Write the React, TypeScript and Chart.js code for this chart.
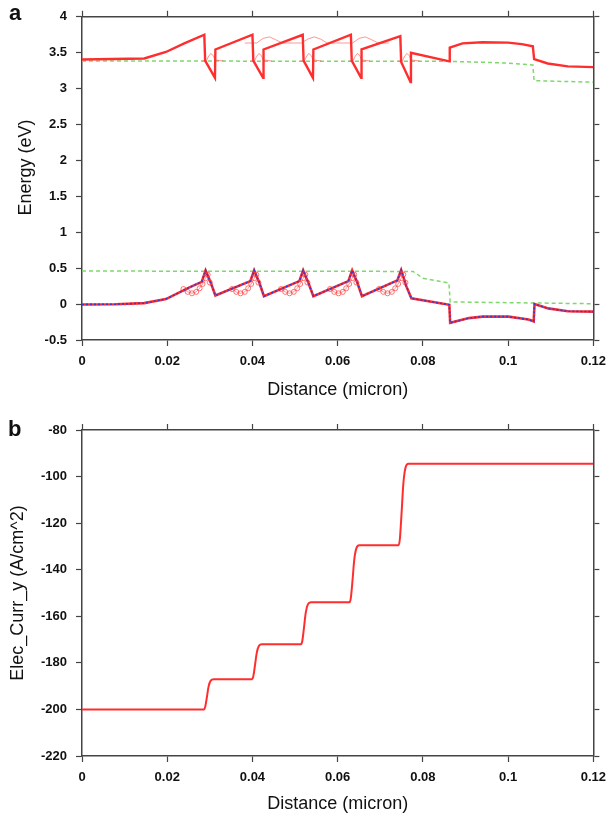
import React, { useEffect, useRef } from "react";
import { Chart, registerables } from "chart.js";
Chart.register(...registerables);

// ---------- shared axis ----------
const xTickValues = [0, 0.02, 0.04, 0.06, 0.08, 0.1, 0.12];
const xTickLabels = ["0", "0.02", "0.04", "0.06", "0.08", "0.1", "0.12"];

// ---------- panel a : band diagram ----------
const energyTickValues = [-0.5, 0, 0.5, 1, 1.5, 2, 2.5, 3, 3.5, 4];
const energyTickLabels = ["-0.5", "0", "0.5", "1", "1.5", "2", "2.5", "3", "3.5", "4"];

// conduction band edge
const cbX = [0, 0.0146, 0.0197, 0.024, 0.0287, 0.0289, 0.0312, 0.0313, 0.04, 0.0402, 0.0425, 0.0426, 0.0518, 0.052, 0.0542, 0.0543, 0.0631, 0.0633, 0.0655, 0.0656, 0.0747, 0.0749, 0.0771, 0.0772, 0.0862, 0.0863, 0.0893, 0.0939, 0.1, 0.1032, 0.1058, 0.1061, 0.1093, 0.114, 0.12];
const cbE = [3.405, 3.42, 3.51, 3.63, 3.75, 3.39, 3.15, 3.545, 3.75, 3.39, 3.15, 3.545, 3.75, 3.39, 3.15, 3.545, 3.75, 3.39, 3.15, 3.545, 3.73, 3.37, 3.09, 3.5, 3.38, 3.57, 3.63, 3.645, 3.64, 3.62, 3.59, 3.41, 3.35, 3.31, 3.3];

// valence band edge
const vbX = [0, 0.008, 0.0146, 0.0197, 0.0251, 0.0281, 0.029, 0.0302, 0.0313, 0.0395, 0.0404, 0.0416, 0.0427, 0.051, 0.0519, 0.0531, 0.0543, 0.0625, 0.0634, 0.0646, 0.0657, 0.074, 0.0749, 0.0761, 0.0773, 0.0862, 0.0864, 0.0908, 0.094, 0.1001, 0.1048, 0.106, 0.1062, 0.1094, 0.114, 0.12];
const vbE = [-0.005, -0.002, 0.014, 0.07, 0.23, 0.31, 0.47, 0.3, 0.12, 0.32, 0.47, 0.3, 0.11, 0.32, 0.47, 0.3, 0.11, 0.32, 0.47, 0.3, 0.11, 0.33, 0.475, 0.25, 0.08, -0.01, -0.26, -0.195, -0.175, -0.175, -0.215, -0.24, 0.0, -0.06, -0.1, -0.105];

// electron quasi-Fermi level
const efnX = [0, 0.086, 0.095, 0.1, 0.1058, 0.1061, 0.12];
const efnE = [3.385, 3.38, 3.365, 3.355, 3.33, 3.11, 3.09];

// hole quasi-Fermi level
const efpX = [0, 0.0777, 0.08, 0.0861, 0.0864, 0.12];
const efpE = [0.46, 0.455, 0.36, 0.295, 0.03, 0.005];

// electron subband levels / wavefunctions (thin)
const ground1X = [0.0282, 0.0292, 0.0296, 0.0302, 0.0308, 0.0312, 0.0332];
const ground1E = [3.385, 3.385, 3.44, 3.49, 3.46, 3.4, 3.385];
const ground2X = [0.0395, 0.0405, 0.0409, 0.0415, 0.0421, 0.0425, 0.0445];
const ground2E = [3.385, 3.385, 3.44, 3.49, 3.46, 3.4, 3.385];
const ground3X = [0.0512, 0.0522, 0.0526, 0.0532, 0.0538, 0.0542, 0.0562];
const ground3E = [3.385, 3.385, 3.44, 3.49, 3.46, 3.4, 3.385];
const ground4X = [0.0626, 0.0636, 0.064, 0.0646, 0.0652, 0.0656, 0.0676];
const ground4E = [3.385, 3.385, 3.44, 3.49, 3.46, 3.4, 3.385];
const ground5X = [0.0742, 0.0752, 0.0756, 0.0762, 0.0768, 0.0772, 0.0792];
const ground5E = [3.385, 3.385, 3.44, 3.49, 3.46, 3.4, 3.385];
const upperX = [0.0382, 0.041, 0.0425, 0.044, 0.0455, 0.047, 0.0515, 0.053, 0.0545, 0.056, 0.0575, 0.059, 0.0635, 0.065, 0.0665, 0.068, 0.0695, 0.072];
const upperE = [3.635, 3.635, 3.7, 3.72, 3.68, 3.635, 3.635, 3.69, 3.72, 3.69, 3.635, 3.635, 3.635, 3.7, 3.72, 3.68, 3.635, 3.635];

// hole states (thin with circles)
const hole1X = [0.0238, 0.0248, 0.0258, 0.0268, 0.0276, 0.0283, 0.029, 0.0295, 0.03];
const hole1E = [0.21, 0.17, 0.15, 0.17, 0.22, 0.28, 0.36, 0.41, 0.3];
const hole2X = [0.0352, 0.0362, 0.0372, 0.0382, 0.039, 0.0397, 0.0404, 0.0409, 0.0414];
const hole2E = [0.21, 0.17, 0.15, 0.17, 0.22, 0.28, 0.36, 0.41, 0.3];
const hole3X = [0.0467, 0.0477, 0.0487, 0.0497, 0.0505, 0.0512, 0.0519, 0.0524, 0.0529];
const hole3E = [0.21, 0.17, 0.15, 0.17, 0.22, 0.28, 0.36, 0.41, 0.3];
const hole4X = [0.0582, 0.0592, 0.0602, 0.0612, 0.062, 0.0627, 0.0634, 0.0639, 0.0644];
const hole4E = [0.21, 0.17, 0.15, 0.17, 0.22, 0.28, 0.36, 0.41, 0.3];
const hole5X = [0.0697, 0.0707, 0.0717, 0.0727, 0.0735, 0.0742, 0.0749, 0.0754, 0.0759];
const hole5E = [0.21, 0.17, 0.15, 0.17, 0.22, 0.28, 0.36, 0.41, 0.3];

// ---------- panel b : electron current ----------
const currTickValues = [-220, -200, -180, -160, -140, -120, -100, -80];
const currTickLabels = ["-220", "-200", "-180", "-160", "-140", "-120", "-100", "-80"];
const currX = [0, 0.0286, 0.0289, 0.0293, 0.0297, 0.0302, 0.0309, 0.0399, 0.0402, 0.0406, 0.041, 0.0415, 0.0422, 0.0514, 0.0517, 0.0521, 0.0525, 0.053, 0.0537, 0.0628, 0.0631, 0.0635, 0.0639, 0.0644, 0.0651, 0.0743, 0.0746, 0.075, 0.0754, 0.0759, 0.0766, 0.12];
const currY = [-200, -200, -199, -194.8, -190.2, -187.6, -187, -187, -185.8, -181, -175.8, -172.8, -172, -172, -170.6, -164.8, -158.5, -154.9, -154, -154, -152, -144.2, -135.6, -130.7, -129.5, -129.5, -126.7, -115.5, -103.3, -96.3, -94.5, -94.5];

// ---------- helpers ----------
const FONT = "'Liberation Sans', Arial, Helvetica, sans-serif";
const RED = "#ff2e2e";
const THIN = "rgba(255,80,80,0.6)";
const GREEN = "#7fd86c";
const BLUE = "#3a3ad0";
const AXIS = "#444";

const pts = (xs: number[], ys: number[]) => xs.map((x, i) => ({ x, y: ys[i] }));

function axisX(tickPad: number, titlePadBottom: number, height: number) {
  return {
    type: "linear" as const,
    position: "bottom" as const,
    min: 0,
    max: 0.12,
    afterBuildTicks: (s: any) => { s.ticks = xTickValues.map((v) => ({ value: v })); },
    afterFit: (s: any) => { s.height = height; },
    ticks: {
      callback: (_v: any, i: number) => xTickLabels[i],
      color: "#111",
      padding: tickPad,
      maxRotation: 0,
      autoSkip: false,
      font: { family: FONT, size: 13, weight: "bold" as const },
    },
    grid: { display: true, drawOnChartArea: false, drawTicks: true, tickLength: 6, tickColor: AXIS, tickWidth: 1.2 },
    border: { display: true, color: AXIS, width: 1.5 },
    title: {
      display: true,
      text: "Distance (micron)",
      color: "#111",
      font: { family: FONT, size: 18 },
      padding: { top: 0, bottom: titlePadBottom },
    },
  };
}

function axisX2(height: number) {
  return {
    type: "linear" as const,
    position: "top" as const,
    min: 0,
    max: 0.12,
    afterBuildTicks: (s: any) => { s.ticks = xTickValues.map((v) => ({ value: v })); },
    afterFit: (s: any) => { s.height = height; },
    ticks: { display: false },
    grid: { display: true, drawOnChartArea: false, drawTicks: true, tickLength: 6, tickColor: AXIS, tickWidth: 1.2 },
    border: { display: true, color: AXIS, width: 1.5 },
  };
}

function axisY(values: number[], labels: string[], title: string, titlePad: number, showTitle: boolean) {
  return {
    type: "linear" as const,
    position: "left" as const,
    min: values[0],
    max: values[values.length - 1],
    afterBuildTicks: (s: any) => { s.ticks = values.map((v) => ({ value: v })); },
    afterFit: (s: any) => { s.width = 82; },
    ticks: {
      callback: (_v: any, i: number) => labels[i],
      color: "#111",
      padding: 9,
      autoSkip: false,
      font: { family: FONT, size: 13, weight: "bold" as const },
    },
    grid: { display: true, drawOnChartArea: false, drawTicks: true, tickLength: 6, tickColor: AXIS, tickWidth: 1.2 },
    border: { display: true, color: AXIS, width: 1.5 },
    title: {
      display: showTitle,
      text: title,
      color: "#111",
      font: { family: FONT, size: 18 },
      padding: { top: titlePad, bottom: 0 },
    },
  };
}

function axisY2(values: number[]) {
  return {
    type: "linear" as const,
    position: "right" as const,
    min: values[0],
    max: values[values.length - 1],
    afterBuildTicks: (s: any) => { s.ticks = values.map((v) => ({ value: v })); },
    afterFit: (s: any) => { s.width = 17; },
    ticks: { display: false },
    grid: { display: true, drawOnChartArea: false, drawTicks: true, tickLength: 6, tickColor: AXIS, tickWidth: 1.2 },
    border: { display: true, color: AXIS, width: 1.5 },
  };
}

// y-axis title for panel a, placed slightly above the plot centre as in the reference
const energyTitlePlugin = {
  id: "energyTitle",
  afterDraw(chart: any) {
    const { ctx, chartArea } = chart;
    ctx.save();
    ctx.fillStyle = "#111";
    ctx.font = `18px ${FONT}`;
    ctx.textAlign = "center";
    ctx.textBaseline = "middle";
    ctx.translate(26, (chartArea.top + chartArea.bottom) / 2 - 11);
    ctx.rotate(-Math.PI / 2);
    ctx.fillText("Energy (eV)", 0, 0);
    ctx.restore();
  },
};

const thinLine = (xs: number[], ys: number[]) => ({
  data: pts(xs, ys),
  borderColor: THIN,
  borderWidth: 1,
  pointRadius: 0,
  showLine: true,
  order: 2,
});

const holeLine = (xs: number[], ys: number[]) => ({
  data: pts(xs, ys),
  borderColor: THIN,
  borderWidth: 1,
  pointRadius: 2.5,
  pointStyle: "circle" as const,
  pointBorderColor: "rgba(255,70,70,0.75)",
  pointBackgroundColor: "rgba(255,255,255,0)",
  pointBorderWidth: 1,
  showLine: true,
  order: 2,
});

function PanelA() {
  const ref = useRef<HTMLCanvasElement | null>(null);
  useEffect(() => {
    if (!ref.current) return;
    const chart = new Chart(ref.current, {
      type: "scatter",
      data: {
        datasets: [
          { data: pts(vbX, vbE), borderColor: BLUE, borderWidth: 1.6, borderDash: [2, 2], pointRadius: 0, showLine: true, order: 0 },
          { data: pts(cbX, cbE), borderColor: RED, borderWidth: 2.4, pointRadius: 0, showLine: true, order: 1 },
          { data: pts(vbX, vbE), borderColor: RED, borderWidth: 2.6, pointRadius: 0, showLine: true, order: 1 },
          thinLine(ground1X, ground1E),
          thinLine(ground2X, ground2E),
          thinLine(ground3X, ground3E),
          thinLine(ground4X, ground4E),
          thinLine(ground5X, ground5E),
          thinLine(upperX, upperE),
          holeLine(hole1X, hole1E),
          holeLine(hole2X, hole2E),
          holeLine(hole3X, hole3E),
          holeLine(hole4X, hole4E),
          holeLine(hole5X, hole5E),
          { data: pts(efnX, efnE), borderColor: GREEN, borderWidth: 1.5, borderDash: [4, 3], pointRadius: 0, showLine: true, order: 3 },
          { data: pts(efpX, efpE), borderColor: GREEN, borderWidth: 1.5, borderDash: [4, 3], pointRadius: 0, showLine: true, order: 3 },
        ],
      },
      options: {
        animation: false,
        responsive: false,
        devicePixelRatio: 1,
        layout: { padding: 0 },
        plugins: { legend: { display: false }, tooltip: { enabled: false } },
        scales: {
          x: axisX(8, 4, 65),
          x2: axisX2(14),
          y: axisY(energyTickValues, energyTickLabels, "Energy (eV)", 15, false),
          y2: axisY2(energyTickValues),
        },
      },
      plugins: [energyTitlePlugin],
    });
    return () => chart.destroy();
  }, []);
  return <canvas ref={ref} width={614} height={405} style={{ display: "block" }} />;
}

function PanelB() {
  const ref = useRef<HTMLCanvasElement | null>(null);
  useEffect(() => {
    if (!ref.current) return;
    const chart = new Chart(ref.current, {
      type: "scatter",
      data: {
        datasets: [
          { data: pts(currX, currY), borderColor: RED, borderWidth: 2, pointRadius: 0, showLine: true, cubicInterpolationMode: "monotone" },
        ],
      },
      options: {
        animation: false,
        responsive: false,
        devicePixelRatio: 1,
        layout: { padding: 0 },
        plugins: { legend: { display: false }, tooltip: { enabled: false } },
        scales: {
          x: axisX(8, 4, 63),
          x2: axisX2(25),
          y: axisY(currTickValues, currTickLabels, "Elec_Curr_y (A/cm^2)", 7, true),
          y2: axisY2(currTickValues),
        },
      },
    });
    return () => chart.destroy();
  }, []);
  return <canvas ref={ref} width={614} height={414} style={{ display: "block" }} />;
}

const labelStyle: React.CSSProperties = {
  position: "absolute",
  fontFamily: FONT,
  fontWeight: "bold",
  fontSize: 22,
  color: "#111",
  lineHeight: "22px",
};

export default function App() {
  return (
    <div style={{ position: "absolute", left: 0, top: 0, width: 614, height: 819, background: "#fff" }}>
      <div style={{ position: "absolute", left: 0, top: 0 }}><PanelA /></div>
      <div style={{ position: "absolute", left: 0, top: 405 }}><PanelB /></div>
      <div style={{ ...labelStyle, left: 9, top: 2 }}>a</div>
      <div style={{ ...labelStyle, left: 8, top: 418 }}>b</div>
    </div>
  );
}
